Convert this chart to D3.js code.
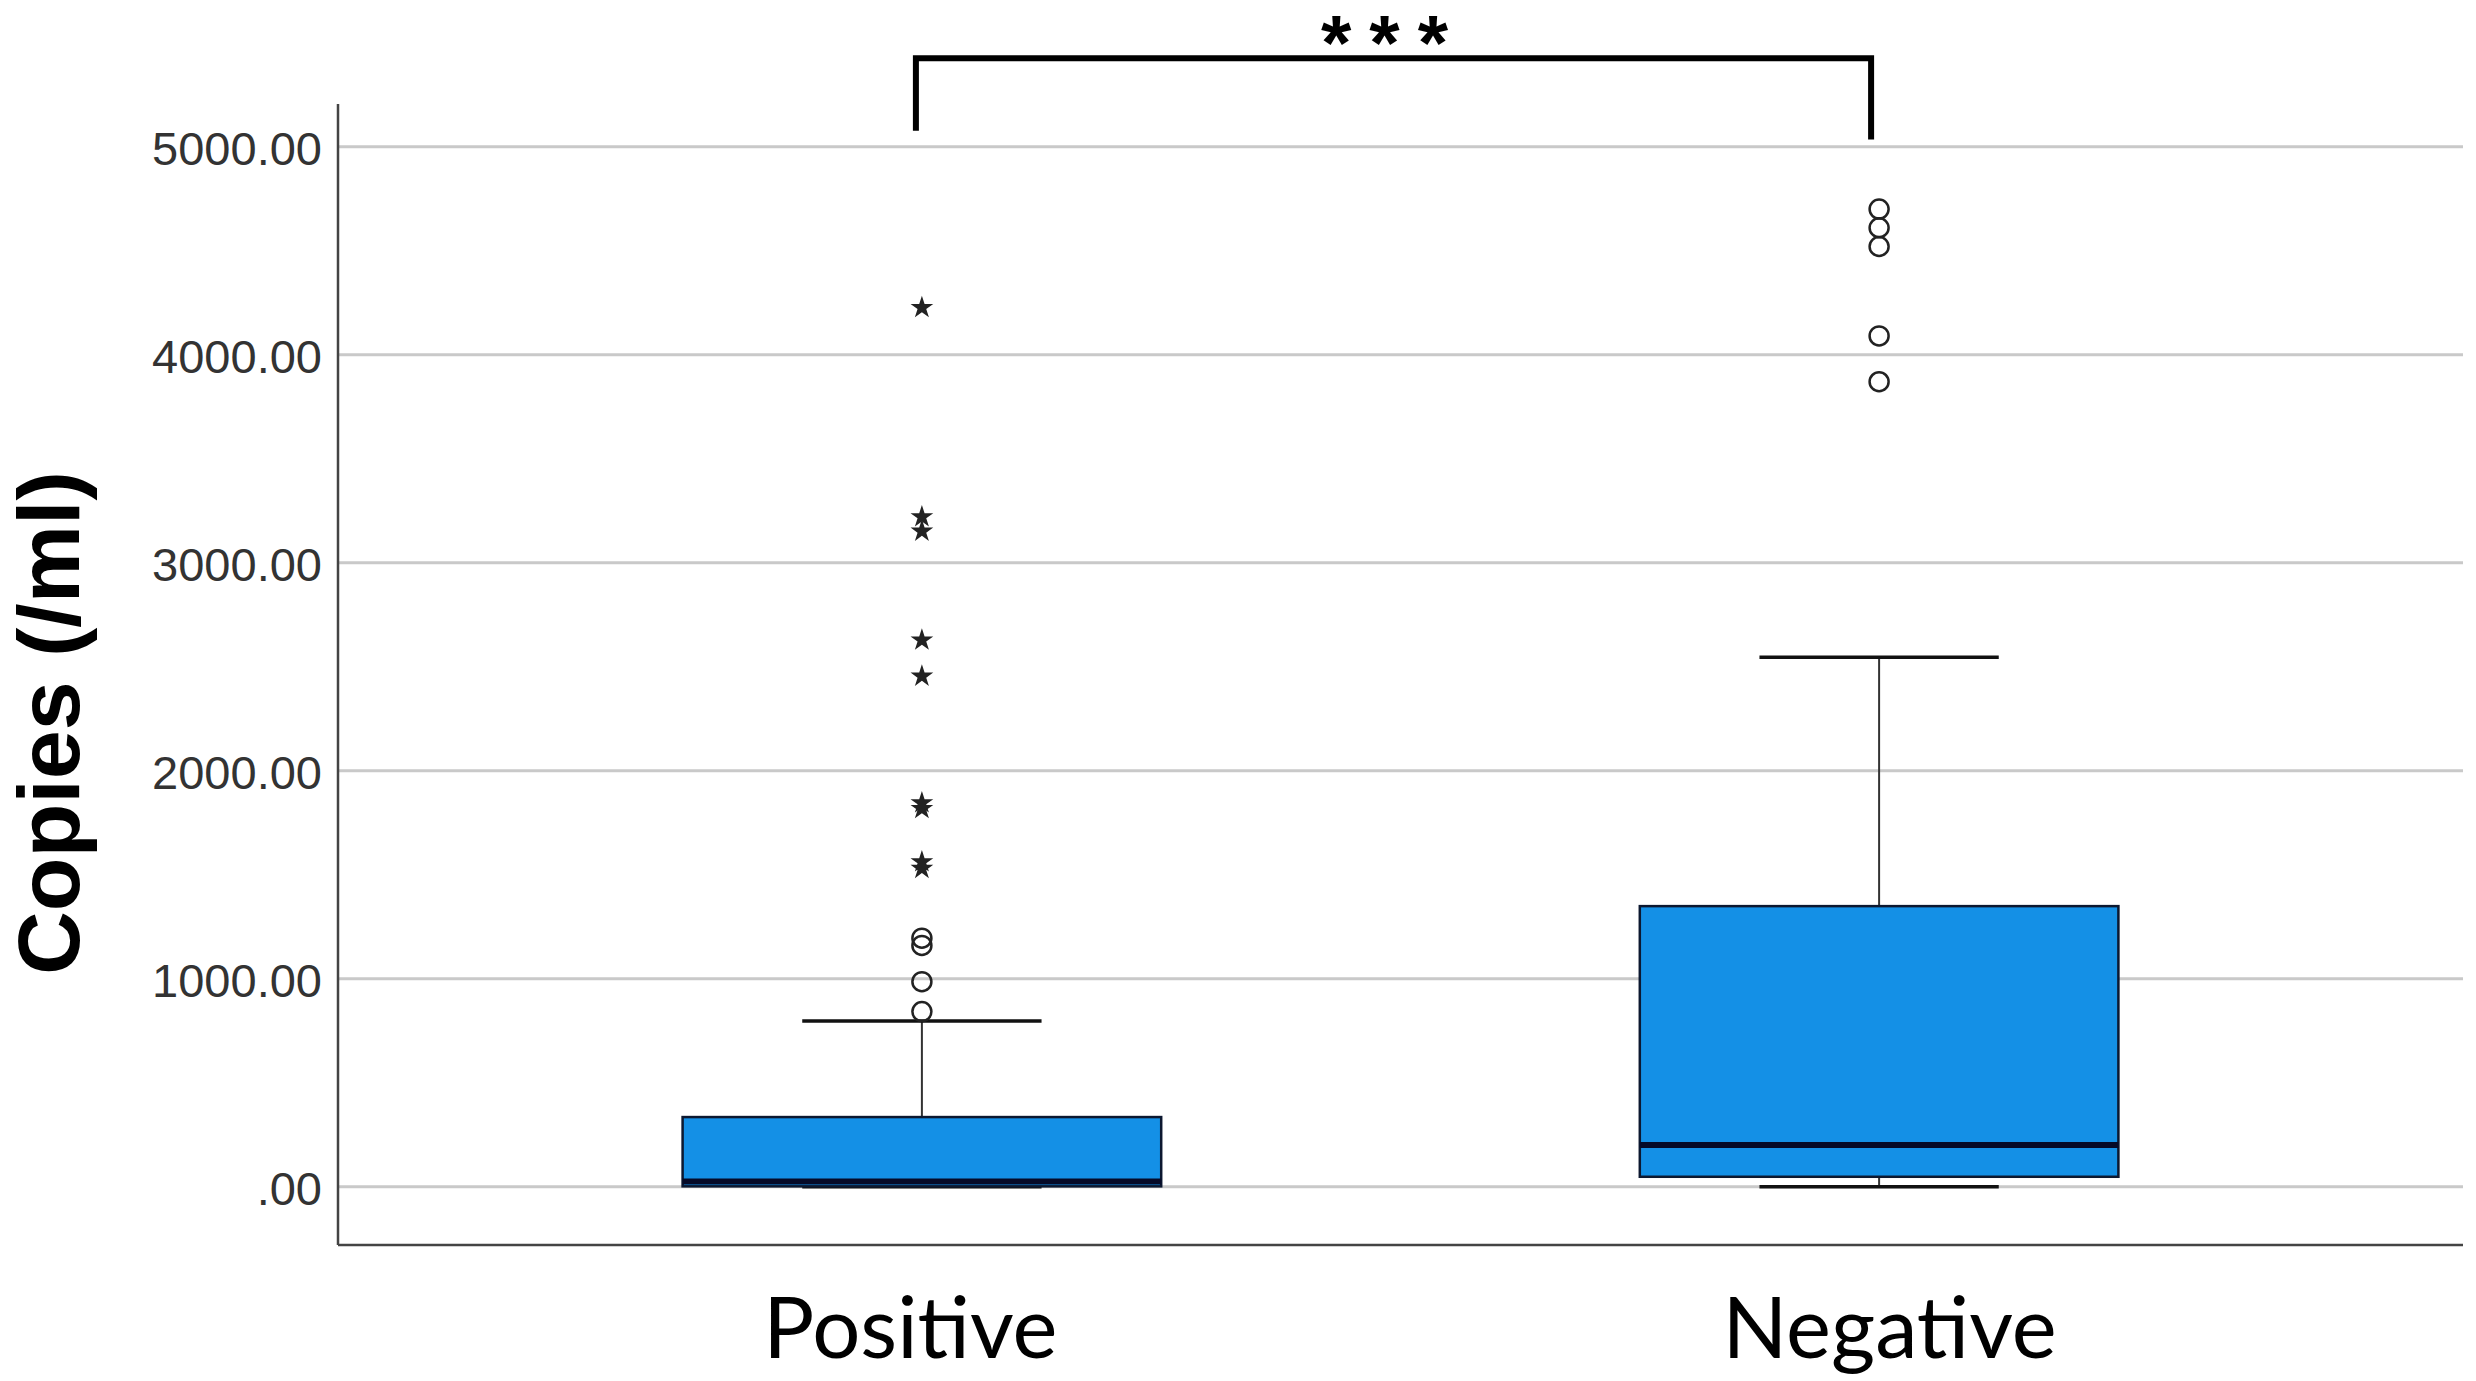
<!DOCTYPE html>
<html>
<head>
<meta charset="utf-8">
<script src="https://cdn.jsdelivr.net/npm/d3@7"></script>
<style>
  html, body { margin: 0; padding: 0; background: #ffffff; }
  svg { display: block; }
</style>
</head>
<body>
<svg id="chart" width="2476" height="1381"></svg>
<script>
// ---- data ----
const categories = ["Positive", "Negative"];
const whiskerLow = [0, 0];
const q1 = [2, 48];
const medians = [25, 201];
const q3 = [335, 1349];
const whiskerHigh = [797, 2545];
const outliersPositive = [842, 986, 1160, 1195];
const outliersNegative = [3870, 4090, 4520, 4610, 4700];
const extremesPositive = [1530, 1562, 1818, 1845, 2454, 2628, 3151, 3220, 4226];
const extremesNegative = [];
const yTickValues = [0, 1000, 2000, 3000, 4000, 5000];
const yTickLabels = [".00", "1000.00", "2000.00", "3000.00", "4000.00", "5000.00"];
const yTitle = "Copies (/ml)";
const significance = "***";
const bracketEnds = [5077, 5034];
const bracketTop = 5425;

// ---- layout ----
const M = { left: 338, right: 2463, top: 104, bottom: 1245 };
const svg = d3.select("#chart");

const y = d3.scaleLinear().domain([-280, 5205]).range([M.bottom, M.top]);
const x = d3.scalePoint().domain(categories).range([M.left, M.right]).padding(0.61);
const boxW = x.step() * 0.5;
const capW = boxW * 0.5;

// gridlines
svg.append("g").selectAll("line").data(yTickValues).join("line")
  .attr("x1", M.left).attr("x2", M.right)
  .attr("y1", d => y(d)).attr("y2", d => y(d))
  .attr("stroke", "#c9c9c9").attr("stroke-width", 3);

// y axis
const yAxis = d3.axisLeft(y).tickValues(yTickValues)
  .tickFormat((d, i) => yTickLabels[i]).tickSize(0).tickPadding(16);
const gy = svg.append("g").attr("transform", `translate(${M.left},0)`).call(yAxis);
gy.select(".domain").remove();
gy.selectAll("text").attr("font-family", "'Liberation Sans', Arial, sans-serif")
  .attr("font-size", 47).attr("fill", "#333333").attr("dy", "0.38em");

// axis lines
svg.append("line").attr("x1", M.left).attr("x2", M.left).attr("y1", M.top).attr("y2", M.bottom)
  .attr("stroke", "#444").attr("stroke-width", 2.5);
svg.append("line").attr("x1", M.left).attr("x2", M.right).attr("y1", M.bottom).attr("y2", M.bottom)
  .attr("stroke", "#444").attr("stroke-width", 2.5);

// x axis labels
const labelShift = [-12, 10];
const xAxis = d3.axisBottom(x).tickSize(0).tickPadding(0);
const gx = svg.append("g").attr("transform", `translate(0,${M.bottom})`).call(xAxis);
gx.select(".domain").remove();
gx.selectAll("text").attr("font-family", "Lato, 'Noto Sans', sans-serif")
  .attr("font-size", 85).attr("fill", "#000").attr("dy", null).attr("y", 113)
  .attr("dx", (d, i) => labelShift[i]);

// boxes
const stats = categories.map((c, i) => ({
  c, lo: whiskerLow[i], q1: q1[i], med: medians[i], q3: q3[i], hi: whiskerHigh[i]
}));
const g = svg.append("g");
stats.forEach(s => {
  const cx = x(s.c);
  g.append("line").attr("x1", cx).attr("x2", cx).attr("y1", y(s.q3)).attr("y2", y(s.hi))
    .attr("stroke", "#333").attr("stroke-width", 2);
  g.append("line").attr("x1", cx).attr("x2", cx).attr("y1", y(s.q1)).attr("y2", y(s.lo))
    .attr("stroke", "#333").attr("stroke-width", 2);
  [s.hi, s.lo].forEach(v => {
    g.append("line").attr("x1", cx - capW / 2).attr("x2", cx + capW / 2)
      .attr("y1", y(v)).attr("y2", y(v)).attr("stroke", "#111").attr("stroke-width", 3.5);
  });
  g.append("rect").attr("x", cx - boxW / 2).attr("width", boxW)
    .attr("y", y(s.q3)).attr("height", y(s.q1) - y(s.q3))
    .attr("fill", "#1490e6").attr("stroke", "#0c1830").attr("stroke-width", 2.5);
  g.append("line").attr("x1", cx - boxW / 2).attr("x2", cx + boxW / 2)
    .attr("y1", y(s.med)).attr("y2", y(s.med))
    .attr("stroke", "#050a28").attr("stroke-width", 6);
});

// outliers (circles)
const circ = [];
outliersPositive.forEach(v => circ.push({ c: "Positive", v }));
outliersNegative.forEach(v => circ.push({ c: "Negative", v }));
svg.append("g").selectAll("circle").data(circ).join("circle")
  .attr("cx", d => x(d.c)).attr("cy", d => y(d.v)).attr("r", 9.5)
  .attr("fill", "none").attr("stroke", "#222").attr("stroke-width", 2.5);

// extremes (stars)
const ext = [];
extremesPositive.forEach(v => ext.push({ c: "Positive", v }));
extremesNegative.forEach(v => ext.push({ c: "Negative", v }));
const star = d3.symbol().type(d3.symbolStar).size(160);
svg.append("g").selectAll("path").data(ext).join("path")
  .attr("d", star)
  .attr("transform", d => `translate(${x(d.c)},${y(d.v)})`)
  .attr("fill", "#222");

// y title
svg.append("text")
  .attr("transform", `translate(79,723) rotate(-90)`)
  .attr("text-anchor", "middle")
  .attr("font-family", "'Liberation Sans', Arial, sans-serif")
  .attr("font-weight", "bold").attr("font-size", 88).attr("fill", "#000")
  .text(yTitle);

// significance bracket
const bx1 = x(categories[0]) - 6, bx2 = x(categories[1]) - 8;
svg.append("path")
  .attr("d", `M${bx1},${y(bracketEnds[0])}V${y(bracketTop)}H${bx2}V${y(bracketEnds[1])}`)
  .attr("fill", "none").attr("stroke", "#000").attr("stroke-width", 6)
  .attr("stroke-linejoin", "miter");
svg.append("text")
  .attr("x", (bx1 + bx2) / 2).attr("y", 70)
  .attr("text-anchor", "middle")
  .attr("font-family", "'Liberation Sans Narrow', 'Liberation Sans', sans-serif")
  .attr("font-weight", "bold").attr("font-size", 78).attr("letter-spacing", 18)
  .attr("fill", "#000")
  .text(significance);
</script>
</body>
</html>
